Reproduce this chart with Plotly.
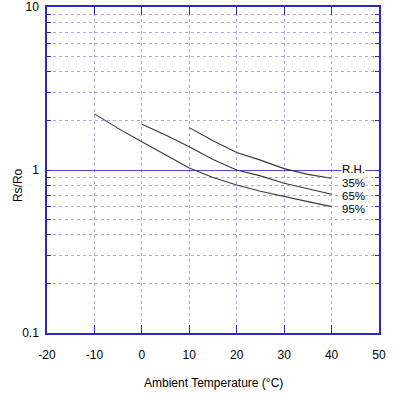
import math
import plotly.graph_objects as go

temp_35 = [10, 15, 20, 25, 30, 35, 40]
rs_35 = [1.82, 1.51, 1.28, 1.15, 1.02, 0.94, 0.89]
temp_65 = [0, 5, 10, 15, 20, 25, 30, 35, 40]
rs_65 = [1.91, 1.64, 1.39, 1.16, 1.00, 0.92, 0.83, 0.77, 0.71]
temp_95 = [-10, -5, 0, 5, 10, 15, 20, 25, 30, 35, 40]
rs_95 = [2.21, 1.80, 1.49, 1.236, 1.03, 0.90, 0.81, 0.74, 0.686, 0.64, 0.596]

labels = ["R.H.", "35%", "65%", "95%"]
label_y = [1.021, 0.844, 0.697, 0.580]

x_ticks = [-20, -10, 0, 10, 20, 30, 40, 50]
x_tick_text = ["-20", "-10", "0", "10", "20", "30", "40", "50"]
y_ticks = [0.1, 1, 10]
y_tick_text = ["0.1", "1", "10"]

AXIS = "#2a2ac8"
GRID = "#a8a8ec"
FONT = "Liberation Sans, Arial, sans-serif"

fig = go.Figure()
for t, r in [(temp_35, rs_35), (temp_65, rs_65), (temp_95, rs_95)]:
    fig.add_trace(go.Scatter(x=t, y=r, mode="lines",
                             line=dict(color="#383838", width=1.1),
                             showlegend=False, hoverinfo="skip"))

for txt, yv in zip(labels, label_y):
    fig.add_annotation(x=40, y=math.log10(yv), xref="x", yref="y", text=txt,
                       showarrow=False, xanchor="left", yanchor="middle",
                       xshift=9, bgcolor="white", borderpad=0, height=11,
                       font=dict(size=11.5, color="black", family=FONT))

fig.add_annotation(x=-0.087, y=0.454, xref="paper", yref="paper", text="Rs/Ro",
                   textangle=-90, showarrow=False, xanchor="center", yanchor="middle",
                   font=dict(size=12, color="black", family=FONT))
fig.add_annotation(x=0.502, y=-0.153, xref="paper", yref="paper",
                   text="Ambient Temperature (°C)", showarrow=False,
                   xanchor="center", yanchor="middle",
                   font=dict(size=12, color="black", family=FONT))

fig.update_layout(
    width=404, height=398,
    margin=dict(l=47, r=25, t=7, b=65),
    paper_bgcolor="white", plot_bgcolor="white",
    font=dict(family=FONT, size=12, color="black"),
    xaxis=dict(range=[-20, 50], tickvals=x_ticks, ticktext=x_tick_text,
               ticks="inside", ticklen=8, automargin=False,
               tickcolor=AXIS, showline=True, linecolor=AXIS, linewidth=1.5,
               mirror="ticks", showgrid=True, gridcolor=GRID, griddash="dot",
               gridwidth=1, zeroline=False, ticklabelstandoff=10),
    yaxis=dict(type="log", range=[-1, 1], tickvals=y_ticks, ticktext=y_tick_text,
               ticks="inside", ticklen=4, tickcolor=AXIS, showline=True,
               automargin=False,
               linecolor=AXIS, linewidth=1.5, mirror="ticks", showgrid=True,
               gridcolor="#4a4ae0", gridwidth=1, zeroline=False,
               ticklabelstandoff=4,
               minor=dict(tickvals=[m * d for d in (0.1, 1) for m in range(2, 10)],
                          ticks="inside", ticklen=4, tickcolor=AXIS,
                          showgrid=True, gridcolor=GRID, griddash="dot", gridwidth=1)),
)

fig.write_html("out.html", config={"displayModeBar": False},
               post_script="document.body.style.margin='0';document.body.style.padding='0';")
